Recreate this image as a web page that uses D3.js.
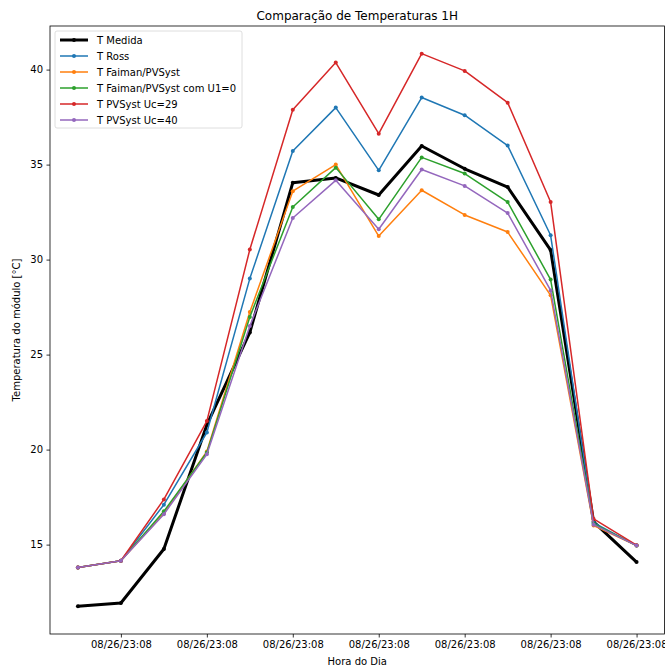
<!DOCTYPE html>
<html>
<head>
<meta charset="utf-8">
<script src="https://cdn.jsdelivr.net/npm/d3@7"></script>
<style>
body { margin: 0; background: #fff; }
svg { font-family: "DejaVu Sans", sans-serif; }
</style>
</head>
<body>
<div id="chart"></div>
<script>
// data, one value per hour step
var tickIndex = [1, 3, 5, 7, 9, 11, 13];
var tickLabels = ['08/26/23:08', '08/26/23:08', '08/26/23:08', '08/26/23:08', '08/26/23:08', '08/26/23:08', '08/26/23:08'];
var yTicks = [15, 20, 25, 30, 35, 40];

var seriesNames = ['T Medida', 'T Ross', 'T Faiman/PVSyst', 'T Faiman/PVSyst com U1=0', 'T PVSyst Uc=29', 'T PVSyst Uc=40'];
var tMedida = [11.75, 11.93, 14.77, 21.3, 26.17, 34.05, 34.3, 33.4, 35.98, 34.78, 33.82, 30.5, 16.2, 14.08];
var tRoss = [13.8, 14.15, 17.1, 20.9, 29.0, 35.72, 38.0, 34.7, 38.53, 37.6, 36.0, 31.28, 16.15, 14.95];
var tFaiman = [13.8, 14.15, 16.65, 19.9, 27.24, 33.6, 35.0, 31.24, 33.65, 32.35, 31.45, 28.12, 16.0, 14.95];
var tFaimanU1 = [13.8, 14.15, 16.75, 19.85, 26.98, 32.77, 34.84, 32.12, 35.38, 34.53, 33.03, 28.95, 16.1, 14.95];
var tPvsyst29 = [13.8, 14.15, 17.38, 21.5, 30.53, 37.89, 40.37, 36.63, 40.84, 39.93, 38.26, 33.03, 16.35, 14.97];
var tPvsyst40 = [13.8, 14.15, 16.6, 19.75, 26.5, 32.19, 34.17, 31.6, 34.74, 33.88, 32.45, 28.38, 16.05, 14.95];

var allSeries = [tMedida, tRoss, tFaiman, tFaimanU1, tPvsyst29, tPvsyst40];
var colors = ['#000000', '#1f77b4', '#ff7f0e', '#2ca02c', '#d62728', '#9467bd'];
var widths = [3, 1.5, 1.5, 1.5, 1.5, 1.5];

var width = 665;
var height = 668;
var plotLeft = 50, plotRight = 664.5, plotTop = 26, plotBottom = 634;

var svg = d3.select('#chart')
	.append('svg')
	.attr('width', width)
	.attr('height', height);

// matplotlib style 5% margins
var n = tMedida.length;
var xPad = (n - 1) * 0.05;
var x = d3.scaleLinear()
	.domain([-xPad, n - 1 + xPad])
	.range([plotLeft, plotRight]);

var ymin = d3.min(allSeries, function(s){ return d3.min(s); });
var ymax = d3.max(allSeries, function(s){ return d3.max(s); });
var yPad = (ymax - ymin) * 0.05;
var y = d3.scaleLinear()
	.domain([ymin - yPad, ymax + yPad])
	.range([plotBottom, plotTop]);

var xAxis = d3.axisBottom(x)
	.tickValues(tickIndex)
	.tickSize(3.5)
	.tickPadding(3.5)
	.tickFormat(function(d, i){ return tickLabels[i]; });

var yAxis = d3.axisLeft(y)
	.tickValues(yTicks)
	.tickSize(3.5)
	.tickPadding(3.5);

var gx = svg.append('g')
	.attr('transform', 'translate(0,' + plotBottom + ')')
	.call(xAxis);
var gy = svg.append('g')
	.attr('transform', 'translate(' + plotLeft + ',0)')
	.call(yAxis);

[gx, gy].forEach(function(g){
	g.select('.domain').remove();
	g.selectAll('line').attr('stroke', '#000').attr('stroke-width', 0.8);
	g.selectAll('text').attr('fill', '#000').style('font-size', '10px')
		.style('font-family', '"DejaVu Sans", sans-serif');
});

// frame
svg.append('rect')
	.attr('x', plotLeft)
	.attr('y', plotTop)
	.attr('width', plotRight - plotLeft)
	.attr('height', plotBottom - plotTop)
	.attr('fill', 'none')
	.attr('stroke', '#000')
	.attr('stroke-width', 0.8);

var line = d3.line()
	.x(function(d, i){ return x(i); })
	.y(function(d){ return y(d); });

var lines = svg.selectAll('.series')
	.data(allSeries)
	.enter()
	.append('g')
	.attr('class', 'series');

lines.append('path')
	.attr('d', line)
	.attr('fill', 'none')
	.attr('stroke', function(d, i){ return colors[i]; })
	.attr('stroke-width', function(d, i){ return widths[i]; })
	.attr('stroke-linejoin', 'round');

lines.each(function(s, k){
	d3.select(this).selectAll('circle')
		.data(s)
		.enter()
		.append('circle')
		.attr('cx', function(d, i){ return x(i); })
		.attr('cy', function(d){ return y(d); })
		.attr('r', 2)
		.attr('fill', colors[k]);
});

// title and labels
svg.append('text')
	.attr('x', (plotLeft + plotRight) / 2)
	.attr('y', 20)
	.attr('text-anchor', 'middle')
	.style('font-size', '12px')
	.text('Comparação de Temperaturas 1H');

svg.append('text')
	.attr('x', (plotLeft + plotRight) / 2)
	.attr('y', 665)
	.attr('text-anchor', 'middle')
	.style('font-size', '10px')
	.text('Hora do Dia');

svg.append('text')
	.attr('transform', 'translate(20,' + ((plotTop + plotBottom) / 2) + ') rotate(-90)')
	.attr('text-anchor', 'middle')
	.style('font-size', '10px')
	.text('Temperatura do módulo [°C]');

// legend
var legendX = 55, legendY = 31, rowH = 16;
var legendBox = svg.append('rect')
	.attr('x', legendX)
	.attr('y', legendY)
	.attr('width', 172)
	.attr('height', 97)
	.attr('rx', 2)
	.attr('fill', '#fff')
	.attr('fill-opacity', 0.8)
	.attr('stroke', '#d6d6d6')
	.attr('stroke-width', 0.8);

var legend = svg.selectAll('.legend')
	.data(seriesNames)
	.enter()
	.append('g')
	.attr('class', 'legend')
	.attr('transform', function(d, i){
		return 'translate(' + legendX + ',' + (legendY + 9 + i * rowH) + ')';
	});

legend.append('line')
	.attr('x1', 5)
	.attr('x2', 33)
	.attr('stroke', function(d, i){ return colors[i]; })
	.attr('stroke-width', function(d, i){ return widths[i]; });

legend.append('circle')
	.attr('cx', 19)
	.attr('r', 2)
	.attr('fill', function(d, i){ return colors[i]; });

var legendText = legend.append('text')
	.attr('x', 42)
	.attr('y', 3.5)
	.style('font-size', '10px')
	.text(function(d){ return d; });

// fit the box round the longest label
var maxW = 0;
legendText.each(function(){
	maxW = Math.max(maxW, this.getComputedTextLength());
});
legendBox.attr('width', 42 + maxW + 6);
</script>
</body>
</html>
